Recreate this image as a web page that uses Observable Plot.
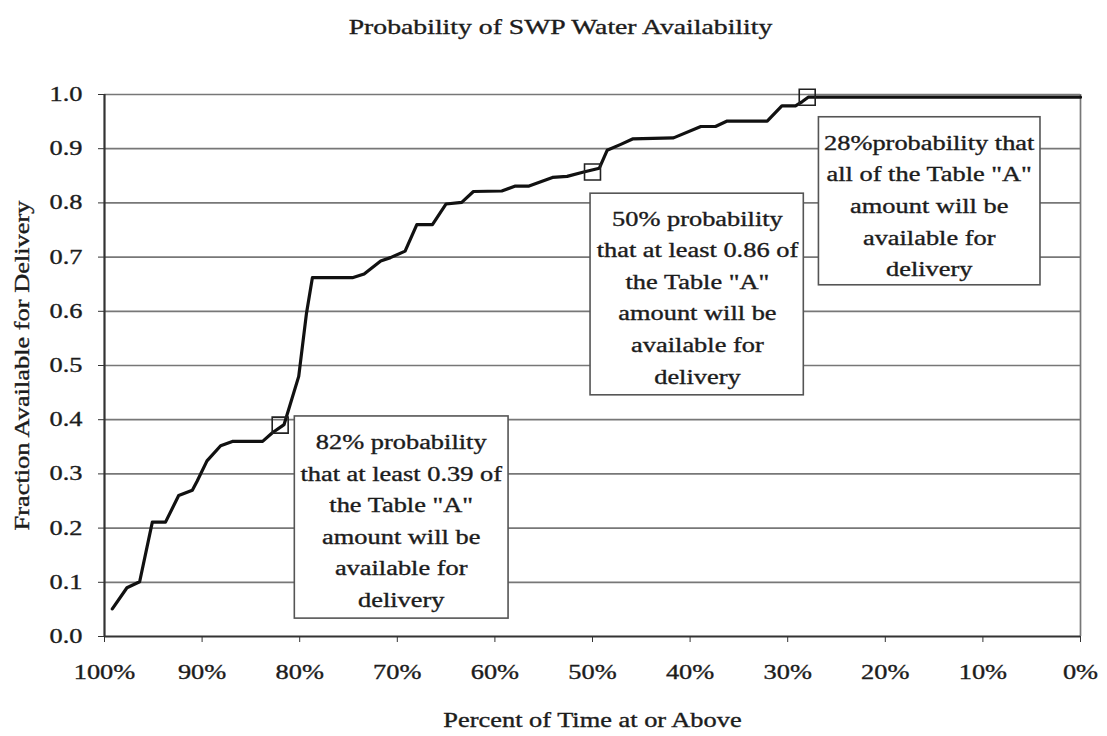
<!DOCTYPE html>
<html>
<head>
<meta charset="utf-8">
<script src="https://cdn.jsdelivr.net/npm/d3@7"></script>
<script src="https://cdn.jsdelivr.net/npm/@observablehq/plot@0.6"></script>
<style>
  html, body { margin: 0; padding: 0; background: #fff; }
  #chart svg { display: block; }
  #chart svg text { stroke: #1c1c1c; stroke-width: 0.35px; }
</style>
</head>
<body>
<div id="chart"></div>
<script>
// ---- Data ----
const titleText = "Probability of SWP Water Availability";
const xLabel = "Percent of Time at or Above";
const yLabel = "Fraction Available for Delivery";

const percentTime = [99.2, 97.7, 96.4, 95.1, 93.75, 92.4, 91.0, 90.5, 89.5, 88.1, 86.9, 83.8, 82.8, 81.6, 80.1, 79.3, 78.7,
  74.6, 73.4, 71.7, 70.7, 69.2, 68.0, 66.4, 65.0, 63.4, 62.2, 59.3, 57.9, 56.5, 54.1, 52.6, 50.9, 49.3, 48.5,
  47.1, 45.9, 41.7, 38.9, 37.4, 36.2, 32.1, 30.6, 29.2, 28.5, 27.9, 0];
const fraction = [0.051, 0.090, 0.101, 0.211, 0.211, 0.260, 0.270, 0.287, 0.324, 0.352, 0.360, 0.360, 0.376, 0.391, 0.480, 0.597, 0.662,
  0.662, 0.669, 0.693, 0.699, 0.711, 0.760, 0.760, 0.798, 0.801, 0.821, 0.822, 0.831, 0.831, 0.847, 0.849, 0.857, 0.864, 0.897,
  0.908, 0.918, 0.920, 0.941, 0.941, 0.951, 0.951, 0.979, 0.979, 0.987, 0.995, 0.995];

const markerPercent = [82, 50, 28];
const markerFraction = [0.39, 0.857, 0.995];

const xTicks = [100, 90, 80, 70, 60, 50, 40, 30, 20, 10, 0];
const yTicks = [0, 0.1, 0.2, 0.3, 0.4, 0.5, 0.6, 0.7, 0.8, 0.9, 1.0];

const annotationTexts = [
  "82% probability\nthat at least 0.39 of\nthe Table \"A\"\namount will be\navailable for\ndelivery",
  "50% probability\nthat at least 0.86 of\nthe Table \"A\"\namount will be\navailable for\ndelivery",
  "28%probability that\nall of the Table \"A\"\namount will be\navailable for\ndelivery"
];
// callout boxes in data coordinates (percent, fraction)
const boxLeft = [80.5, 50.2, 26.8];
const boxRight = [58.6, 28.35, 4.1];
const boxTop = [0.406, 0.817, 0.958];
const boxBottom = [0.033, 0.445, 0.648];
const textX = [69.6, 39.25, 15.5];
const textY = [0.219, 0.631, 0.800];

// ---- Build tables ----
const curve = percentTime.map((p, i) => ({p, f: fraction[i]}));
const markers = markerPercent.map((p, i) => ({p, f: markerFraction[i]}));
const boxes = annotationTexts.map((t, i) => ({
  x1: boxLeft[i], x2: boxRight[i], y1: boxBottom[i], y2: boxTop[i], tx: textX[i], ty: textY[i], text: t
}));

const FONT = "'Liberation Serif', 'Times New Roman', serif";
const INK = "#1c1c1c";

const chart = Plot.plot({
  width: 1107,
  height: 736,
  marginLeft: 104,
  marginRight: 27,
  marginTop: 94,
  marginBottom: 100,
  style: {fontFamily: FONT, fontSize: "20px", color: INK, background: "#fff", fontVariant: "normal"},
  x: {domain: [100, 0], ticks: xTicks, tickFormat: d => d + "%"},
  y: {domain: [0, 1], ticks: yTicks, tickFormat: d3.format(".1f")},
  marks: [
    // horizontal gridlines
    Plot.ruleY(yTicks.filter(d => d > 0), {stroke: "#777", strokeWidth: 1.7}),
    // right border
    Plot.ruleX([0], {stroke: "#777", strokeWidth: 1.7}),
    // axis lines
    Plot.ruleY([0], {stroke: "#333", strokeWidth: 2.2}),
    Plot.ruleX([100], {stroke: "#333", strokeWidth: 2.2}),
    Plot.axisX({ticks: xTicks, tickFormat: d => d + "%", tickSize: 6, tickPadding: 22, fontSize: 20, label: null, stroke: "#333", fill: INK}),
    Plot.axisY({ticks: yTicks, tickFormat: d3.format(".1f"), tickSize: 6, tickPadding: 16, fontSize: 20, label: null, stroke: "#333", fill: INK}),
    // curve
    Plot.line(curve, {x: "p", y: "f", stroke: "#111", strokeWidth: 3.2, strokeLinejoin: "round"}),
    // markers
    Plot.dot(markers, {x: "p", y: "f", symbol: "square", r: 9, stroke: "#222", strokeWidth: 1.6, fill: "none"}),
    // callout boxes
    Plot.rect(boxes, {x1: "x1", x2: "x2", y1: "y1", y2: "y2", fill: "#fff", stroke: "#555", strokeWidth: 1.6}),
    Plot.text(boxes, {x: "tx", y: "ty", text: "text", fontSize: 20, lineHeight: 1.58, fill: INK, textAnchor: "middle", lineAnchor: "middle"}),
    // title and axis labels
    Plot.text([titleText], {frameAnchor: "top", dx: -32, dy: -67, fontSize: 21, fill: INK, lineAnchor: "middle"}),
    Plot.text([xLabel], {frameAnchor: "bottom", dy: 84, fontSize: 20, fill: INK, lineAnchor: "middle"}),
    Plot.text([yLabel], {frameAnchor: "left", dx: -82, rotate: -90, fontSize: 20, fill: INK, lineAnchor: "middle", textAnchor: "middle"})
  ]
});

// the reference typeface renders wider than Times; stretch glyphs along the writing direction
for (const t of chart.querySelectorAll("text")) {
  const tr = t.getAttribute("transform") || "";
  t.setAttribute("transform", (tr + " scale(1.32,1)").trim());
}

document.getElementById("chart").appendChild(chart);
</script>
</body>
</html>
